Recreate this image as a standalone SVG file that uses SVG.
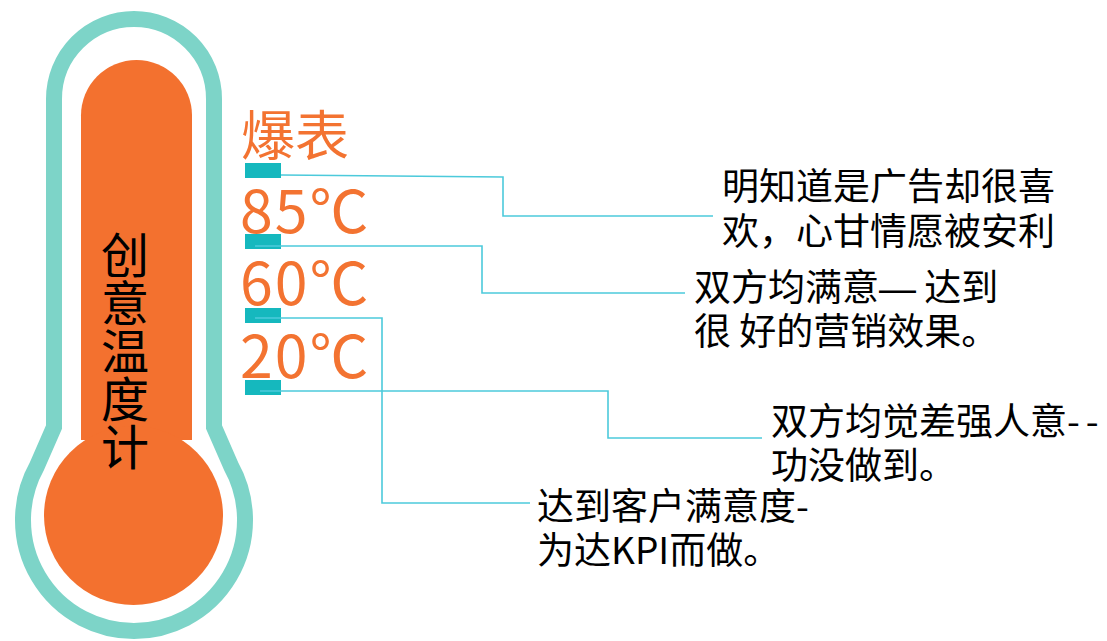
<svg xmlns="http://www.w3.org/2000/svg" width="1107" height="641" viewBox="0 0 1107 641">
<style>
.cjk{font-family:"Noto Sans CJK SC","Noto Sans",sans-serif;}
.lbl{fill:#f37331;}
.txt{fill:#000;font-size:37px;}
.tick{fill:#15b8be;}
.con{fill:none;stroke:#4ccadb;stroke-width:1.6;}
</style>
<rect width="1107" height="641" fill="#ffffff"/>
<g id="thermometer">
<path d="M54 427 L54 99 A80 80 0 0 1 214 99 L214 427 L231 466 A111 111 0 1 1 37 466 Z" fill="#ffffff" stroke="#7dd4c8" stroke-width="16"/>
<path d="M81 440 L81 115.5 A55.5 55.5 0 0 1 192 115.5 L192 440 Z" fill="#f3712f"/>
<circle cx="133.5" cy="515.5" r="89.5" fill="#f3712f"/>
<text class="cjk" x="125" y="231" font-size="48" fill="#000" writing-mode="vertical-rl">创意温度计</text>
</g>
<g id="scale">
<text class="cjk lbl" x="241" y="156" font-size="54">爆表</text>
<text class="cjk lbl" x="240" y="233" font-size="59" letter-spacing="2">85℃</text>
<text class="cjk lbl" x="240" y="305" font-size="59" letter-spacing="2">60℃</text>
<text class="cjk lbl" x="240" y="378" font-size="59" letter-spacing="2">20℃</text>
<rect class="tick" x="245" y="163" width="36" height="15"/>
<rect class="tick" x="245" y="234" width="36" height="15"/>
<rect class="tick" x="245" y="308" width="36" height="15"/>
<rect class="tick" x="245" y="380" width="36" height="15"/>
</g>
<g id="connectors">
<polyline class="con" points="281,175 503,177 503,216 713,216"/>
<polyline class="con" points="255,246 482,246 482,293 685,293"/>
<polyline class="con" points="255,318 382,318 382,503 530,503"/>
<polyline class="con" points="260,391 608,391 608,438 762,438"/>
</g>
<g id="note-baobiao">
<text class="cjk txt"><tspan x="722" y="200">明知道是广告却很喜</tspan><tspan x="722" y="245">欢，心甘情愿被安利</tspan></text>
</g>
<g id="note-85">
<text class="cjk txt"><tspan x="694" y="301">双方均满意<tspan font-family="Liberation Sans">—</tspan> 达到</tspan><tspan x="694" y="345">很 好的营销效果。</tspan></text>
</g>
<g id="note-20">
<text class="cjk txt"><tspan x="771" y="435">双方均觉差强人意<tspan letter-spacing="6">--</tspan></tspan><tspan x="771" y="479">功没做到。</tspan></text>
</g>
<g id="note-60">
<text class="cjk txt"><tspan x="537" y="520">达到客户满意度-</tspan><tspan x="537" y="564">为达KPI而做。</tspan></text>
</g>
</svg>
